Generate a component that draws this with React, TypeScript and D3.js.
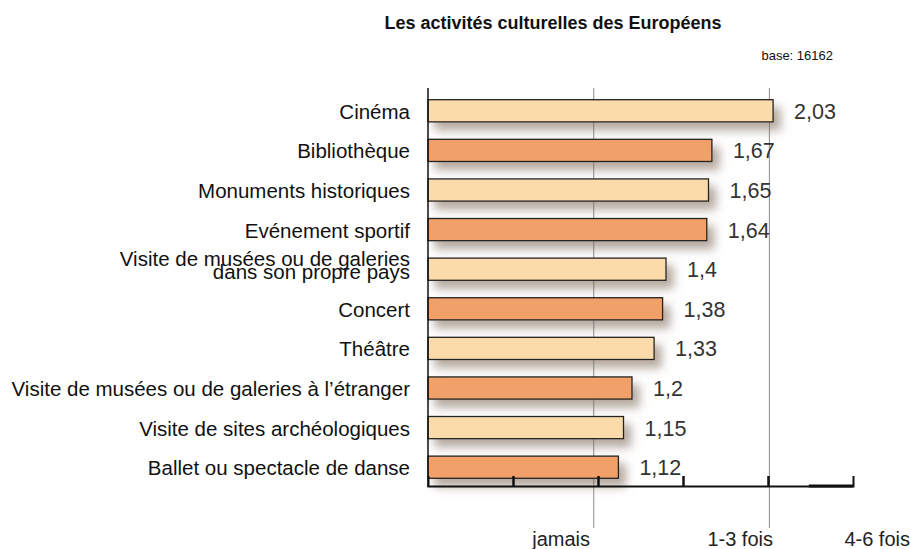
import React, { useEffect, useRef } from "react";
import * as d3 from "d3";

const categories = [
  "Cinéma",
  "Bibliothèque",
  "Monuments historiques",
  "Evénement sportif",
  "Visite de musées ou de galeries\ndans son propre pays",
  "Concert",
  "Théâtre",
  "Visite de musées ou de galeries à l’étranger",
  "Visite de sites archéologiques",
  "Ballet ou spectacle de danse",
];
const values = [2.03, 1.67, 1.65, 1.64, 1.4, 1.38, 1.33, 1.2, 1.15, 1.12];
const valueLabels = ["2,03", "1,67", "1,65", "1,64", "1,4", "1,38", "1,33", "1,2", "1,15", "1,12"];
const scaleValues = [1, 2, 3];
const scaleTexts = ["jamais", "1-3 fois", "4-6 fois"];

const FONT = "'Liberation Sans', Arial, sans-serif";

const App = () => {
  const ref = useRef<SVGSVGElement>(null);

  useEffect(() => {
    const svg = d3.select(ref.current);
    svg.selectAll("*").remove();

    const x = d3.scaleLinear().domain([0, 2.5]).range([428, 853]);
    const y = d3.scaleBand<number>()
      .domain(d3.range(categories.length))
      .range([91, 487])
      .paddingInner(0.44)
      .paddingOuter(0.22);

    const defs = svg.append("defs");
    const f = defs.append("filter").attr("id", "shadow")
      .attr("x", "-10%").attr("y", "-60%").attr("width", "130%").attr("height", "280%");
    f.append("feDropShadow")
      .attr("dx", 7).attr("dy", 8).attr("stdDeviation", 5)
      .attr("flood-color", "#7a6453").attr("flood-opacity", 0.55);

    // title
    svg.append("text")
      .attr("x", 553).attr("y", 29)
      .attr("text-anchor", "middle")
      .attr("font-family", FONT).attr("font-size", 18).attr("font-weight", "bold")
      .attr("fill", "#111")
      .text("Les activités culturelles des Européens");
    svg.append("text")
      .attr("x", 833).attr("y", 60)
      .attr("text-anchor", "end")
      .attr("font-family", FONT).attr("font-size", 13)
      .attr("fill", "#111")
      .text("base: 16162");

    // gridlines
    svg.append("g").selectAll("line")
      .data([0.975, 2.008])
      .join("line")
      .attr("x1", d => x(d)).attr("x2", d => x(d))
      .attr("y1", 88).attr("y2", 528)
      .attr("stroke", "#8a8a8a").attr("stroke-width", 1);

    // bars
    svg.append("g").selectAll("rect")
      .data(values)
      .join("rect")
      .attr("x", x(0))
      .attr("y", (d, i) => y(i)!)
      .attr("width", d => x(d) - x(0))
      .attr("height", y.bandwidth())
      .attr("fill", (d, i) => (i % 2 === 0 ? "#fcdbab" : "#f0a068"))
      .attr("stroke", "#222")
      .attr("stroke-width", 1.3)
      .attr("filter", "url(#shadow)");

    // value labels
    svg.append("g").selectAll("text")
      .data(values)
      .join("text")
      .attr("x", d => x(d) + 21)
      .attr("y", (d, i) => y(i)! + y.bandwidth() / 2 + 8)
      .attr("font-family", FONT).attr("font-size", 21.5)
      .attr("fill", "#333")
      .text((d, i) => valueLabels[i]);

    // category labels
    const cat = svg.append("g").selectAll("text")
      .data(categories)
      .join("text")
      .attr("text-anchor", "end")
      .attr("font-family", FONT).attr("font-size", 20.5)
      .attr("fill", "#111");
    cat.each(function (d, i) {
      const lines = d.split("\n");
      const cy = y(i)! + y.bandwidth() / 2;
      const t = d3.select(this);
      lines.forEach((ln, k) => {
        t.append("tspan")
          .attr("x", 410)
          .attr("y", lines.length > 1 ? cy - 3.5 + k * 13.5 : cy + 8)
          .text(ln);
      });
    });

    // left axis line
    svg.append("line")
      .attr("x1", x(0)).attr("x2", x(0))
      .attr("y1", 88).attr("y2", 487)
      .attr("stroke", "#111").attr("stroke-width", 1.5);

    // bottom axis, ticks pointing up
    const axis = svg.append("g")
      .attr("transform", `translate(0,486)`)
      .call(d3.axisTop(x).tickValues([0.5, 1, 1.5, 2]).tickSize(10).tickSizeOuter(10).tickFormat(() => ""));
    axis.select(".domain").attr("stroke", "#111").attr("stroke-width", 2);
    axis.selectAll(".tick line").attr("stroke", "#111").attr("stroke-width", 2.5);
    svg.append("line")
      .attr("x1", x(2.24)).attr("x2", x(2.5))
      .attr("y1", 486).attr("y2", 486)
      .attr("stroke", "#111").attr("stroke-width", 3);

    // scale labels (right-aligned near their gridline)
    const labelOffset = [-8, 5, -28];
    svg.append("g").selectAll("text")
      .data(scaleValues)
      .join("text")
      .attr("x", (d, i) => x(d) + labelOffset[i])
      .attr("y", 546)
      .attr("text-anchor", "end")
      .attr("font-family", FONT).attr("font-size", 20)
      .attr("fill", "#222")
      .text((d, i) => scaleTexts[i]);
  }, []);

  return <svg ref={ref} width={911} height={549} style={{ position: "absolute", left: 0, top: 0 }}></svg>;
};

export default App;
